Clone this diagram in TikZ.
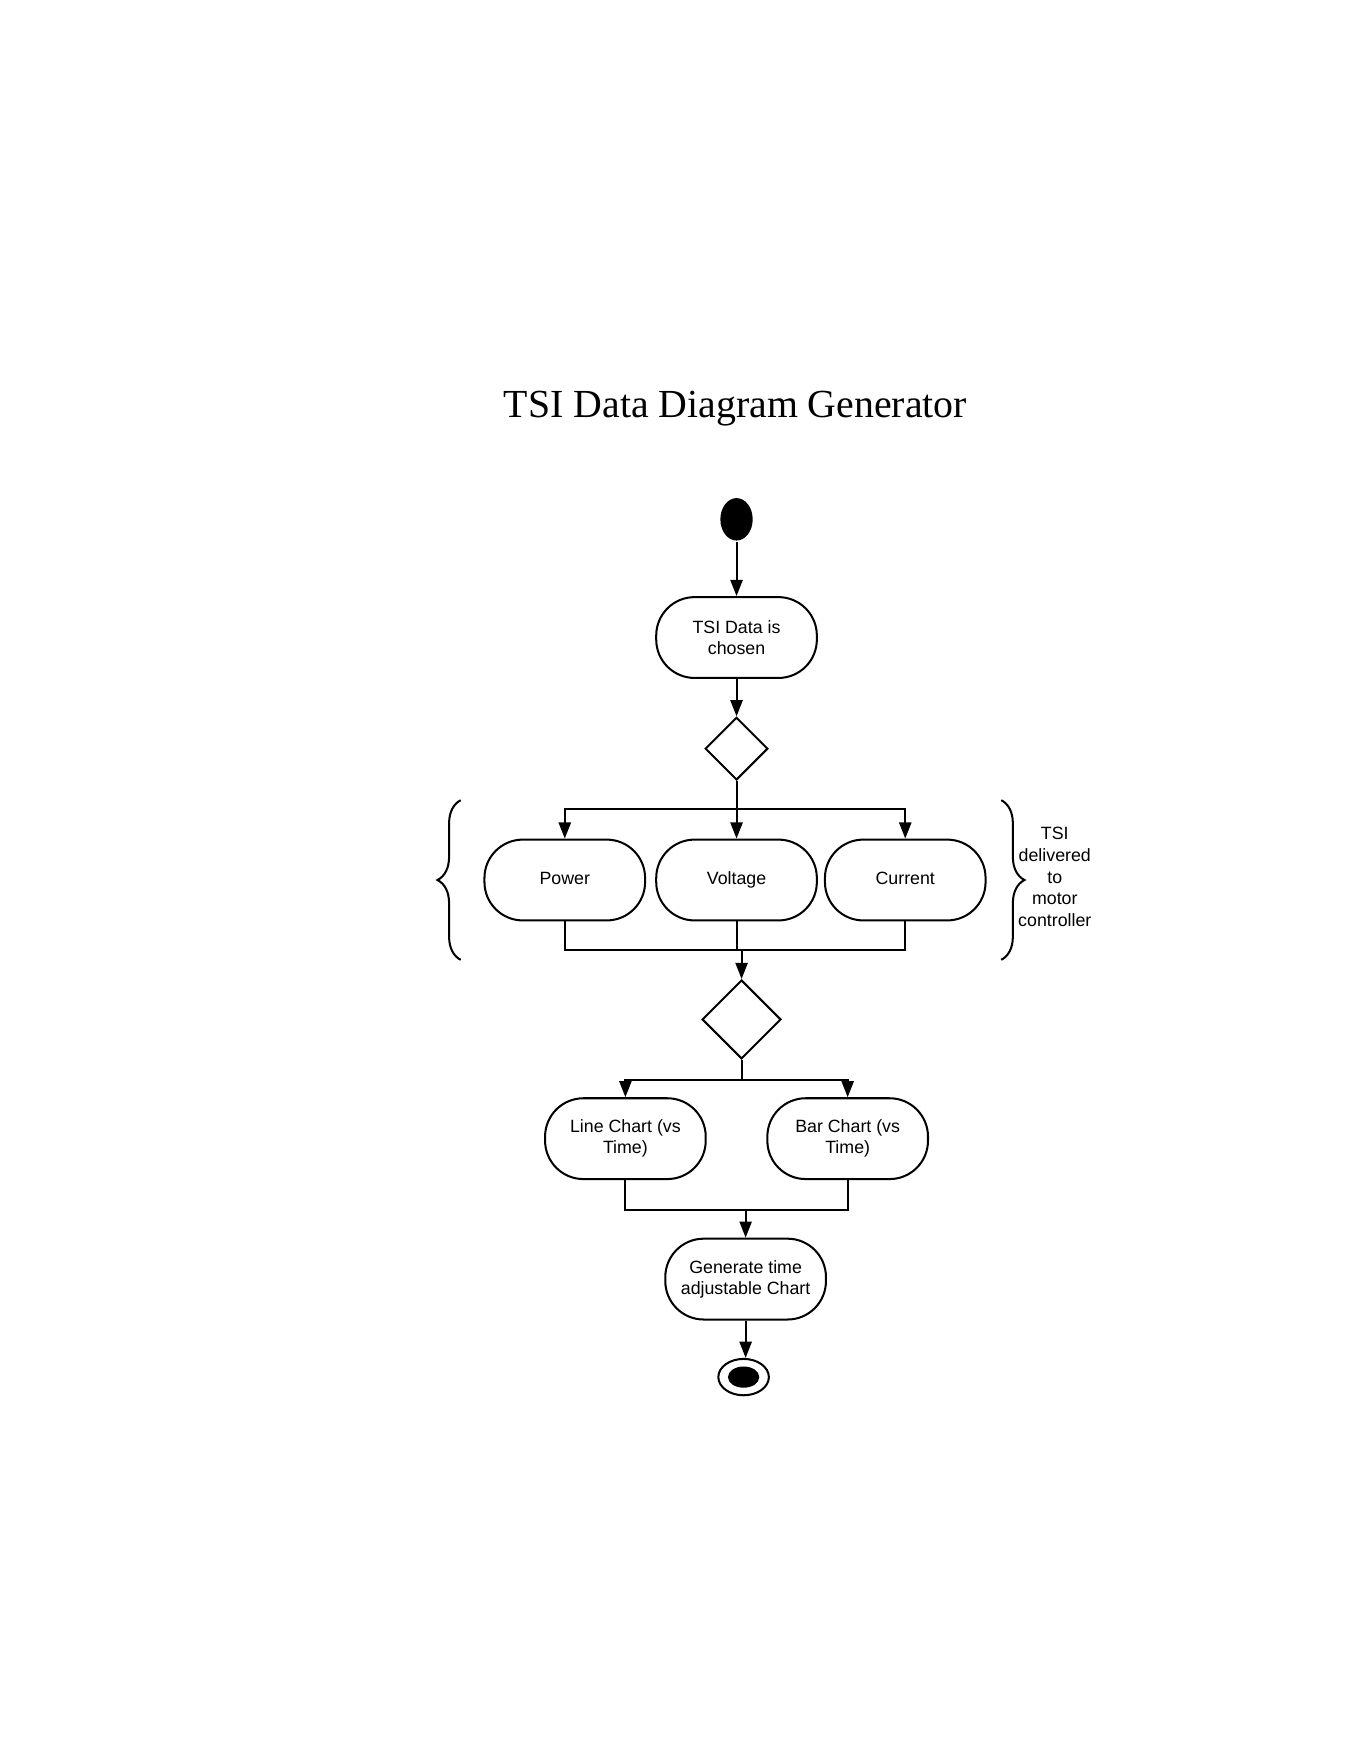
\documentclass[tikz,border=0pt]{standalone}
\usepackage{fontspec}
\setmainfont{Liberation Serif}
\setsansfont{Liberation Sans}
\usetikzlibrary{arrows.meta,shapes.geometric,decorations.pathreplacing}
\tikzset{
    actv/.style={rectangle, draw, rounded corners=19pt, minimum width=79.5pt, minimum height=40pt, inner sep=2pt, align=center, font=\sffamily\fontsize{8.8}{10.5}\selectfont},
    cell/.style={actv, text height=6.4pt, text depth=1.9pt},
    decn/.style={diamond, draw, aspect=1, inner sep=0pt},
    flow/.style={-{Triangle[length=8pt,width=6pt]}},
    brc/.style={decorate, decoration={brace, amplitude=11.5pt}}
}

\begin{document}
\begin{tikzpicture}[x=0.5pt,y=-0.5pt,line width=1pt]
\useasboundingbox (0,0) rectangle (1346,1742);
\node[anchor=base, font=\fontsize{19.7}{24}\selectfont] (title) at (728,413) {TSI Data Diagram Generator};
% flow nodes
\node[ellipse, fill, minimum width=16pt, minimum height=21pt, inner sep=0pt] (start) at (729,514) {};
\node[actv] (chosen) at (729,631) {TSI Data is\\chosen};
\node[decn, minimum width=31pt, minimum height=31pt] (d1) at (729,741) {};
\node[cell] (power)   at (559,871) {Power};
\node[cell] (voltage) at (729,871) {Voltage};
\node[cell] (current) at (896,871) {Current};
\node[decn, minimum width=39pt, minimum height=39pt] (d2) at (734,1009) {};
\node[actv] (line) at (619,1127) {Line Chart (vs\\Time)};
\node[actv] (bar)  at (839,1127) {Bar Chart (vs\\Time)};
\node[actv] (gen)  at (738,1266) {Generate time\\adjustable Chart};
\node[ellipse, draw, minimum width=25pt, minimum height=18pt, inner sep=0pt] (stop) at (736,1363) {};
\node[ellipse, fill, minimum width=15.5pt, minimum height=10.5pt, inner sep=0pt] (stopdot) at (stop) {};
\node[align=center, font=\sffamily\fontsize{8.8}{10.7}\selectfont] (note) at (1044,868) {TSI\\delivered\\to\\motor\\controller};
% forks and joins
\coordinate (f1) at (729,801);
\coordinate (j1) at (734,940);
\coordinate (f2) at (734,1069);
\coordinate (j2) at (738,1198);
% connectors
\draw[flow] (start) -- (chosen);
\draw[flow] (chosen) -- (d1);
\draw (d1) -- (f1);
\draw[flow] (f1) -| (power);
\draw[flow] (f1) -- (voltage);
\draw[flow] (f1) -| (current);
\draw (power) |- (j1);
\draw (current) |- (j1);
\draw (voltage) -- (voltage |- j1);
\draw[flow] (j1) -- (d2);
\draw (d2) -- (f2);
\draw[flow] (f2) -| (line);
\draw[flow] (f2) -| (bar);
\draw (line) |- (j2);
\draw (bar) |- (j2);
\draw[flow] (j2) -- (gen);
\draw[flow] (gen) -- (gen.south |- stop.north);
% braces
\draw[brc] (456,950) -- (456,792);
\draw[brc] (991,792) -- (991,950);
\end{tikzpicture}
\end{document}
